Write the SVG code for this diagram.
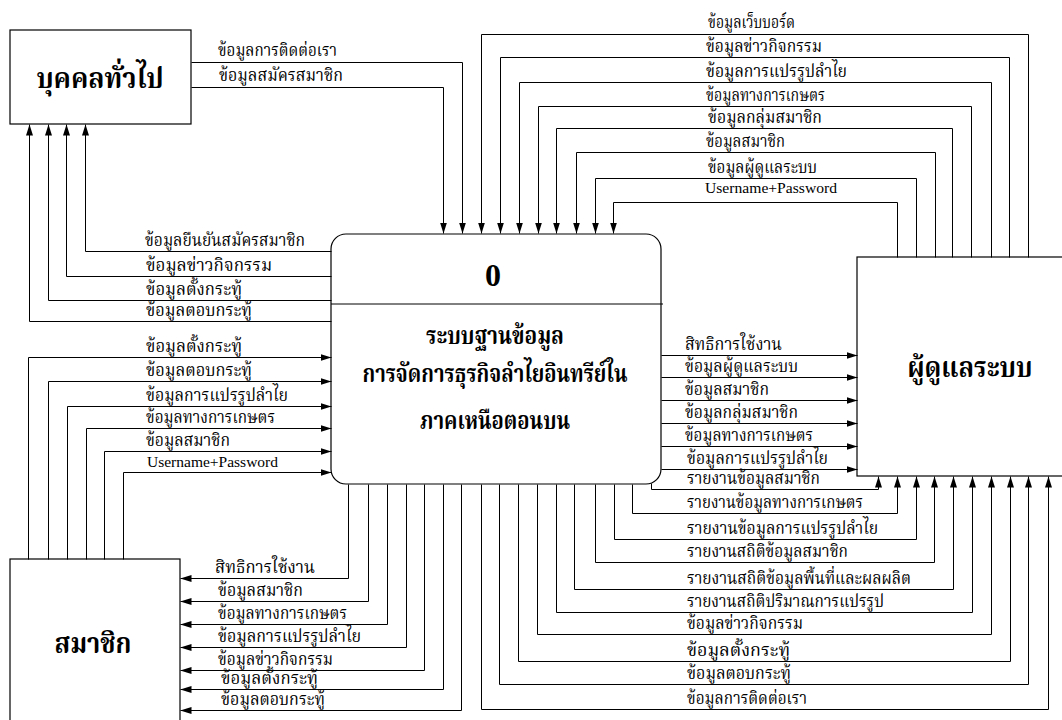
<svg xmlns="http://www.w3.org/2000/svg" width="1062" height="720" viewBox="0 0 1062 720">
<style>
.box{fill:#fff;stroke:#000;stroke-width:1.2}
.c{fill:none;stroke:#000;stroke-width:1}
.lbl{font-family:"Liberation Serif","Noto Serif Thai","Noto Sans Thai","DejaVu Sans",serif;font-size:17px;fill:#000}
.en{font-family:"Liberation Serif","Times New Roman",serif;font-size:15.5px;fill:#000}
.ttl{font-family:"Liberation Serif","Noto Serif Thai","Noto Sans Thai","DejaVu Sans",serif;font-weight:bold;font-size:28px;fill:#000;text-anchor:middle}
</style>
<defs>
<marker id="ah" markerUnits="userSpaceOnUse" markerWidth="11" markerHeight="8" refX="11" refY="4" orient="auto">
<path d="M0,0.5 L11,4 L0,7.5 z" fill="#000"/>
</marker>
</defs>
<rect width="1062" height="720" fill="#fff"/>

<g id="node-public">
<rect class="box" x="10" y="30" width="181" height="94"/>
<text class="ttl" x="100" y="88" textLength="127" lengthAdjust="spacingAndGlyphs">บุคคลทั่วไป</text>
</g>

<g id="node-member">
<rect class="box" x="10" y="559" width="170" height="175"/>
<text class="ttl" x="93" y="653" textLength="77" lengthAdjust="spacingAndGlyphs">สมาชิก</text>
</g>

<g id="node-admin">
<rect class="box" x="857" y="257" width="215" height="219"/>
<text class="ttl" x="970" y="377" textLength="125" lengthAdjust="spacingAndGlyphs">ผู้ดูแลระบบ</text>
</g>

<g id="node-process">
<rect class="box" x="331" y="234" width="330" height="250" rx="15" ry="15"/>
<line class="c" x1="331" y1="304" x2="663" y2="304"/>
<text class="ttl" x="493" y="286" style="font-size:32px">0</text>
<text class="ttl" x="495" y="344" textLength="138" lengthAdjust="spacingAndGlyphs" style="font-size:24px">ระบบฐานข้อมูล</text>
<text class="ttl" x="495" y="382" textLength="265" lengthAdjust="spacingAndGlyphs" style="font-size:24px">การจัดการธุรกิจลำไยอินทรีย์ใน</text>
<text class="ttl" x="495" y="429" textLength="150" lengthAdjust="spacingAndGlyphs" style="font-size:24px">ภาคเหนือตอนบน</text>
</g>

<g id="connectors" transform="translate(0.5,0.5)">
<g marker-end="url(#ah)">
<!-- public -> process -->
<path class="c" d="M191,62 H462 V233"/>
<path class="c" d="M191,87 H443 V233"/>
<!-- admin -> process -->
<path class="c" d="M1028,257 V34 H481 V233"/>
<path class="c" d="M1009,257 V57 H500 V233"/>
<path class="c" d="M991,257 V82 H519 V233"/>
<path class="c" d="M971,257 V106 H538 V233"/>
<path class="c" d="M952,257 V128 H556 V233"/>
<path class="c" d="M935,257 V152 H576 V233"/>
<path class="c" d="M916,257 V178 H595 V233"/>
<path class="c" d="M897,257 V202 H613 V233"/>
<!-- process -> public -->
<path class="c" d="M331,251 H85 V124"/>
<path class="c" d="M331,276 H66 V124"/>
<path class="c" d="M331,300 H48 V124"/>
<path class="c" d="M331,321 H29 V124"/>
<!-- member -> process -->
<path class="c" d="M28,559 V357 H331"/>
<path class="c" d="M48,559 V381 H331"/>
<path class="c" d="M67,559 V406 H331"/>
<path class="c" d="M86,559 V428 H331"/>
<path class="c" d="M104,559 V451 H331"/>
<path class="c" d="M123,559 V472 H331"/>
<!-- process -> member -->
<path class="c" d="M348,484 V578 H180"/>
<path class="c" d="M368,484 V601 H180"/>
<path class="c" d="M387,484 V624 H180"/>
<path class="c" d="M406,484 V647 H180"/>
<path class="c" d="M424,484 V670 H180"/>
<path class="c" d="M443,484 V689 H180"/>
<path class="c" d="M461,484 V710 H180"/>
<!-- process -> admin (right) -->
<path class="c" d="M661,355 H857"/>
<path class="c" d="M661,377 H857"/>
<path class="c" d="M661,400 H857"/>
<path class="c" d="M661,423 H857"/>
<path class="c" d="M661,446 H857"/>
<path class="c" d="M661,469 H857"/>
<!-- process -> admin (bottom) -->
<path class="c" d="M651,483 V489 H878 V476"/>
<path class="c" d="M632,484 V513 H897 V476"/>
<path class="c" d="M614,484 V539 H916 V476"/>
<path class="c" d="M595,484 V562 H934 V476"/>
<path class="c" d="M574,484 V589 H953 V476"/>
<path class="c" d="M556,484 V612 H972 V476"/>
<path class="c" d="M537,484 V634 H991 V476"/>
<path class="c" d="M518,484 V661 H1010 V476"/>
<path class="c" d="M499,484 V684 H1028 V476"/>
<path class="c" d="M481,484 V709 H1048 V476"/>
</g>
</g>

<g id="labels">
<text class="lbl" x="218" y="56" textLength="119" lengthAdjust="spacingAndGlyphs">ข้อมูลการติดต่อเรา</text>
<text class="lbl" x="219" y="81" textLength="124" lengthAdjust="spacingAndGlyphs">ข้อมูลสมัครสมาชิก</text>

<text class="lbl" x="708" y="28" textLength="87" lengthAdjust="spacingAndGlyphs">ข้อมูลเว็บบอร์ด</text>
<text class="lbl" x="706" y="52" textLength="116" lengthAdjust="spacingAndGlyphs">ข้อมูลข่าวกิจกรรม</text>
<text class="lbl" x="706" y="77" textLength="141" lengthAdjust="spacingAndGlyphs">ข้อมูลการแปรรูปลำไย</text>
<text class="lbl" x="706" y="101" textLength="119" lengthAdjust="spacingAndGlyphs">ข้อมูลทางการเกษตร</text>
<text class="lbl" x="708" y="123" textLength="114" lengthAdjust="spacingAndGlyphs">ข้อมูลกลุ่มสมาชิก</text>
<text class="lbl" x="706" y="147" textLength="79" lengthAdjust="spacingAndGlyphs">ข้อมูลสมาชิก</text>
<text class="lbl" x="708" y="173" textLength="109" lengthAdjust="spacingAndGlyphs">ข้อมูลผู้ดูแลระบบ</text>
<text class="en" x="705" y="193" textLength="132" lengthAdjust="spacingAndGlyphs">Username+Password</text>

<text class="lbl" x="145" y="246" textLength="160" lengthAdjust="spacingAndGlyphs">ข้อมูลยืนยันสมัครสมาชิก</text>
<text class="lbl" x="146" y="271" textLength="126" lengthAdjust="spacingAndGlyphs">ข้อมูลข่าวกิจกรรม</text>
<text class="lbl" x="146" y="295" textLength="96" lengthAdjust="spacingAndGlyphs">ข้อมูลตั้งกระทู้</text>
<text class="lbl" x="146" y="316" textLength="106" lengthAdjust="spacingAndGlyphs">ข้อมูลตอบกระทู้</text>

<text class="lbl" x="146" y="352" textLength="96" lengthAdjust="spacingAndGlyphs">ข้อมูลตั้งกระทู้</text>
<text class="lbl" x="146" y="376" textLength="106" lengthAdjust="spacingAndGlyphs">ข้อมูลตอบกระทู้</text>
<text class="lbl" x="146" y="401" textLength="142" lengthAdjust="spacingAndGlyphs">ข้อมูลการแปรรูปลำไย</text>
<text class="lbl" x="146" y="423" textLength="129" lengthAdjust="spacingAndGlyphs">ข้อมูลทางการเกษตร</text>
<text class="lbl" x="146" y="446" textLength="84" lengthAdjust="spacingAndGlyphs">ข้อมูลสมาชิก</text>
<text class="en" x="147" y="467" textLength="131" lengthAdjust="spacingAndGlyphs">Username+Password</text>

<text class="lbl" x="215" y="573" textLength="100" lengthAdjust="spacingAndGlyphs">สิทธิการใช้งาน</text>
<text class="lbl" x="218" y="596" textLength="85" lengthAdjust="spacingAndGlyphs">ข้อมูลสมาชิก</text>
<text class="lbl" x="218" y="619" textLength="129" lengthAdjust="spacingAndGlyphs">ข้อมูลทางการเกษตร</text>
<text class="lbl" x="218" y="642" textLength="143" lengthAdjust="spacingAndGlyphs">ข้อมูลการแปรรูปลำไย</text>
<text class="lbl" x="218" y="665" textLength="115" lengthAdjust="spacingAndGlyphs">ข้อมูลข่าวกิจกรรม</text>
<text class="lbl" x="221" y="684" textLength="97" lengthAdjust="spacingAndGlyphs">ข้อมูลตั้งกระทู้</text>
<text class="lbl" x="221" y="705" textLength="104" lengthAdjust="spacingAndGlyphs">ข้อมูลตอบกระทู้</text>

<text class="lbl" x="685" y="350" textLength="97" lengthAdjust="spacingAndGlyphs">สิทธิการใช้งาน</text>
<text class="lbl" x="685" y="372" textLength="113" lengthAdjust="spacingAndGlyphs">ข้อมูลผู้ดูแลระบบ</text>
<text class="lbl" x="685" y="395" textLength="84" lengthAdjust="spacingAndGlyphs">ข้อมูลสมาชิก</text>
<text class="lbl" x="685" y="418" textLength="113" lengthAdjust="spacingAndGlyphs">ข้อมูลกลุ่มสมาชิก</text>
<text class="lbl" x="685" y="441" textLength="128" lengthAdjust="spacingAndGlyphs">ข้อมูลทางการเกษตร</text>
<text class="lbl" x="687" y="464" textLength="141" lengthAdjust="spacingAndGlyphs">ข้อมูลการแปรรูปลำไย</text>

<text class="lbl" x="687" y="484" textLength="133" lengthAdjust="spacingAndGlyphs">รายงานข้อมูลสมาชิก</text>
<text class="lbl" x="687" y="508" textLength="176" lengthAdjust="spacingAndGlyphs">รายงานข้อมูลทางการเกษตร</text>
<text class="lbl" x="687" y="534" textLength="191" lengthAdjust="spacingAndGlyphs">รายงานข้อมูลการแปรรูปลำไย</text>
<text class="lbl" x="687" y="557" textLength="161" lengthAdjust="spacingAndGlyphs">รายงานสถิติข้อมูลสมาชิก</text>
<text class="lbl" x="687" y="584" textLength="224" lengthAdjust="spacingAndGlyphs">รายงานสถิติข้อมูลพื้นที่และผลผลิต</text>
<text class="lbl" x="687" y="607" textLength="197" lengthAdjust="spacingAndGlyphs">รายงานสถิติปริมาณการแปรรูป</text>
<text class="lbl" x="687" y="629" textLength="116" lengthAdjust="spacingAndGlyphs">ข้อมูลข่าวกิจกรรม</text>
<text class="lbl" x="687" y="656" textLength="103" lengthAdjust="spacingAndGlyphs">ข้อมูลตั้งกระทู้</text>
<text class="lbl" x="687" y="679" textLength="104" lengthAdjust="spacingAndGlyphs">ข้อมูลตอบกระทู้</text>
<text class="lbl" x="687" y="704" textLength="120" lengthAdjust="spacingAndGlyphs">ข้อมูลการติดต่อเรา</text>
</g>
</svg>
